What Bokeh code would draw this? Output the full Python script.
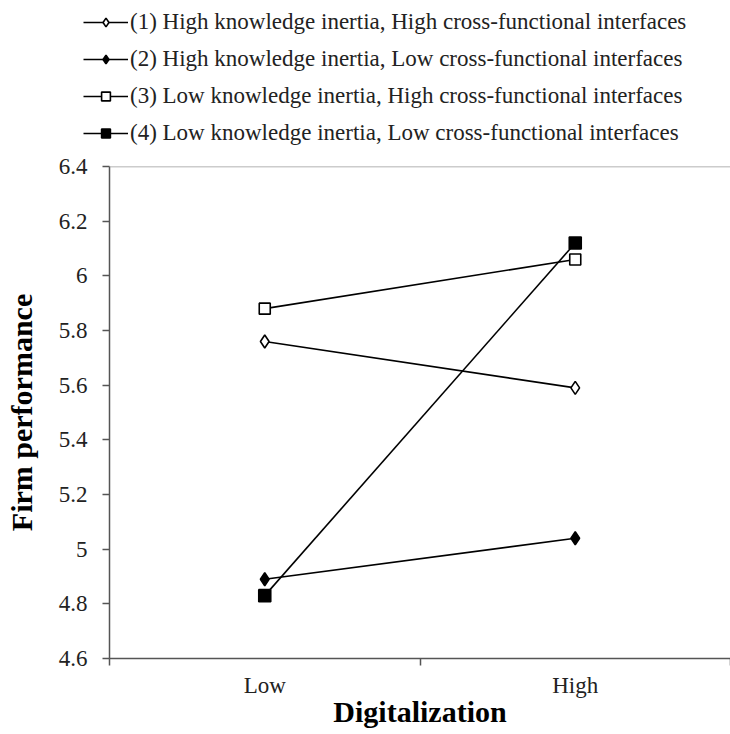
from bokeh.plotting import figure
from bokeh.layouts import column
from bokeh.models import (Range1d, FixedTicker, CustomJSTickFormatter, Legend, LegendItem, Span)
from bokeh.embed import file_html
from bokeh.resources import INLINE

categories = ["Low", "High"]
series_names = [
    "(1) High knowledge inertia, High cross-functional interfaces",
    "(2) High knowledge inertia, Low cross-functional interfaces",
    "(3) Low knowledge inertia, High cross-functional interfaces",
    "(4) Low knowledge inertia, Low cross-functional interfaces",
]
s1 = [5.76, 5.59]
s2 = [4.89, 5.04]
s3 = [5.88, 6.06]
s4 = [4.83, 6.12]
y_ticks = [4.6, 4.8, 5.0, 5.2, 5.4, 5.6, 5.8, 6.0, 6.2, 6.4]

FONT = "Liberation Serif"
x_pos = [i + 0.5 for i in range(len(categories))]
x_bounds = list(range(len(categories) + 1))

styles = [
    dict(marker="diamond", fill="white", size=13),
    dict(marker="diamond", fill="black", size=13),
    dict(marker="square", fill="white", size=11),
    dict(marker="square", fill="black", size=12),
]
all_series = [s1, s2, s3, s4]

# ---- legend strip (its own figure above the chart) ----
lg = figure(width=730, height=154, output_backend="svg", toolbar_location=None,
            x_range=Range1d(0, 1), y_range=Range1d(0, 1),
            x_axis_location=None, y_axis_location=None,
            min_border_left=0, min_border_right=0, min_border_top=0, min_border_bottom=0)
lg.frame_align = False
lg.outline_line_color = None
lg.grid.grid_line_color = None
items = []
for name, vals, st in zip(series_names, all_series, styles):
    lr = lg.line(x_pos, vals, line_color="black", line_width=1.6)
    sr = lg.scatter(x_pos, vals, marker=st["marker"], size=st["size"], fill_color=st["fill"],
                    line_color="black", line_width=1.6)
    items.append(LegendItem(label=name, renderers=[lr, sr]))
legend = Legend(items=items, location=(83, 8), orientation="vertical",
                label_text_font=FONT, label_text_font_size="23px", label_text_color="#222222",
                glyph_width=45, glyph_height=22, label_height=22, spacing=11,
                label_standoff=2, padding=0, margin=0, border_line_color=None,
                background_fill_alpha=0)
lg.add_layout(legend, "center")

# ---- main chart ----
p = figure(width=730, height=580, output_backend="svg", toolbar_location=None,
           x_range=Range1d(0, len(categories)), y_range=Range1d(y_ticks[0], y_ticks[-1]),
           min_border_left=109, min_border_right=0, min_border_top=12, min_border_bottom=76)
p.frame_align = False
p.outline_line_color = None
p.grid.grid_line_color = None
p.add_layout(Span(location=y_ticks[-1], dimension="width", line_color="#999999", line_width=1.5))

for vals, st in zip(all_series, styles):
    p.line(x_pos, vals, line_color="black", line_width=1.6)
    p.scatter(x_pos, vals, marker=st["marker"], size=st["size"], fill_color=st["fill"],
              line_color="black", line_width=1.6)

ya = p.yaxis[0]
ya.ticker = FixedTicker(ticks=y_ticks)
ya.formatter = CustomJSTickFormatter(code="return (Math.round(tick*10)/10).toString();")
ya.axis_label = "Firm performance"
ya.axis_label_text_font = FONT
ya.axis_label_text_font_style = "bold"
ya.axis_label_text_font_size = "30px"
ya.axis_label_text_color = "black"
ya.axis_label_standoff = 18
ya.major_label_text_font = FONT
ya.major_label_text_font_size = "23px"
ya.major_label_text_color = "#222222"
ya.major_label_standoff = 15
ya.major_tick_in = 0
ya.major_tick_out = 7
ya.minor_tick_line_color = None
ya.axis_line_color = "#555555"
ya.axis_line_width = 1.5
ya.major_tick_line_color = "#555555"
ya.major_tick_line_width = 1.5

xa = p.xaxis[0]
xa.ticker = FixedTicker(ticks=x_pos, minor_ticks=x_bounds)
label_js = "const c = %s; return c[Math.floor(tick)];" % str(categories)
xa.formatter = CustomJSTickFormatter(code=label_js)
xa.axis_label = "Digitalization"
xa.axis_label_text_font = FONT
xa.axis_label_text_font_style = "bold"
xa.axis_label_text_font_size = "30px"
xa.axis_label_text_color = "black"
xa.axis_label_standoff = -6
xa.major_label_text_font = FONT
xa.major_label_text_font_size = "23px"
xa.major_label_text_color = "#222222"
xa.major_label_standoff = 7
xa.major_tick_in = 0
xa.major_tick_out = 0
xa.minor_tick_in = 0
xa.minor_tick_out = 7
xa.minor_tick_line_color = "#555555"
xa.minor_tick_line_width = 1.5
xa.axis_line_color = "#555555"
xa.axis_line_width = 1.5

layout = column(lg, p, spacing=0)
open("out.html", "w").write(file_html(layout, INLINE))
